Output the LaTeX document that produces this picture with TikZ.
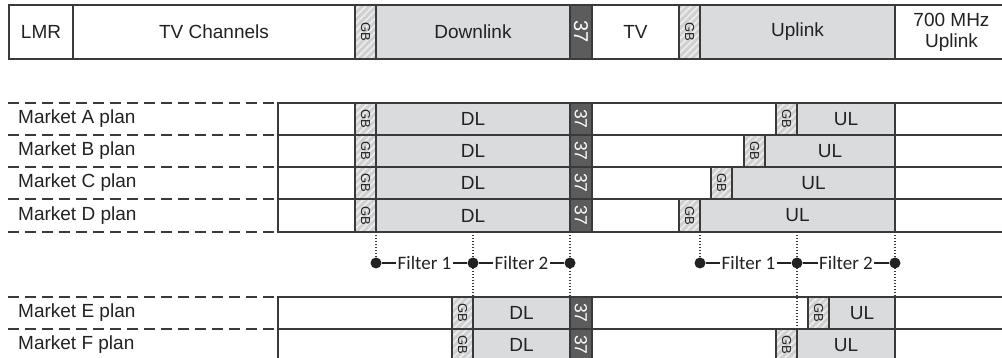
\documentclass[tikz,border=0pt]{standalone}
\usepackage{fontspec}
\setmainfont{Liberation Sans}
\newfontfamily\calibri{Carlito}
\usetikzlibrary{patterns.meta}
\definecolor{band}{HTML}{DADBDC}
\definecolor{gbgray}{HTML}{D0D0D0}
\definecolor{gbstripe}{HTML}{EDEDED}
\definecolor{chdark}{HTML}{5C5C5C}
\definecolor{edge}{HTML}{3A3A3A}
\definecolor{ink}{HTML}{222222}
\tikzset{
  cellbase/.style={draw=edge, line width=1.2pt, inner sep=0pt, outer sep=0pt,
    align=center, text=ink, font=\fontsize{19}{22}\selectfont},
  whitecell/.style={cellbase, fill=white},
  bandcell/.style={cellbase, fill=band},
  gbcell/.style={cellbase, preaction={fill=gbgray},
    pattern={Lines[angle=45,distance=5pt,line width=1.7pt]}, pattern color=gbstripe,
    rotate=-90, font=\fontsize{13}{14}\selectfont},
  chcell/.style={cellbase, fill=chdark, text=white, rotate=-90, font=\fontsize{17.5}{18}\selectfont},
  chtop/.style={chcell, font=\fontsize{20}{21}\selectfont},
  rowlabel/.style={anchor=west, inner sep=0pt, text=ink, font=\fontsize{19}{22}\selectfont},
  rowdash/.style={draw=edge, line width=1.2pt, dash pattern=on 11pt off 6pt},
  vdots/.style={draw=edge, line width=1.2pt, dash pattern=on 1.3pt off 1.7pt},
  fdot/.style={circle, fill=ink, draw=none, minimum size=11pt, inner sep=0pt},
  filterline/.style={draw=ink, line width=1.2pt},
  filtertext/.style={fill=white, inner xsep=1.5pt, inner ysep=1pt, text=ink,
    font=\calibri\fontsize{19}{21}\selectfont},
}
\newcommand\hcell[7]{\node[#6, minimum width={((#3)-(#2))*1pt}, minimum height={((#5)-(#4))*1pt}] (#1) at ({((#2)+(#3))/2},{((#4)+(#5))/2}) {#7};}
\newcommand\vcell[7]{\node[#6, minimum width={((#5)-(#4))*1pt}, minimum height={((#3)-(#2))*1pt}] (#1) at ({((#2)+(#3))/2},{((#4)+(#5))/2}) {#7};}
% id, y1, y2, left GB x, right GB x, label
\newcommand\marketrow[6]{%
  \draw[rowdash] (8,#2) -- (278,#2);
  \draw[rowdash] (8,#3) -- (278,#3);
  \node[rowlabel] (lab#1) at (18,{(#2+#3)/2}) {#6};
  \hcell{wl#1}{278}{#4}{#2}{#3}{whitecell}{}
  \vcell{gbl#1}{#4}{#4+21}{#2}{#3}{gbcell}{GB}
  \hcell{dl#1}{#4+21}{570}{#2}{#3}{bandcell}{DL}
  \vcell{ch#1}{570}{592}{#2}{#3}{chcell}{37}
  \hcell{wm#1}{592}{#5}{#2}{#3}{whitecell}{}
  \vcell{gbr#1}{#5}{#5+21}{#2}{#3}{gbcell}{GB}
  \hcell{ul#1}{#5+21}{895}{#2}{#3}{bandcell}{UL}
  \hcell{wr#1}{895}{1008}{#2}{#3}{whitecell}{}
}
\begin{document}
\begin{tikzpicture}[x=1pt,y=-1pt]
\useasboundingbox[fill=white] (0,0) rectangle (1002,358);
% top band plan
\hcell{lmr}{9}{73}{5}{59}{whitecell}{LMR}
\hcell{tvch}{73}{355}{5}{59}{whitecell}{TV Channels}
\vcell{gbt1}{355}{376}{5}{59}{gbcell}{GB}
\hcell{down}{376}{570}{5}{59}{bandcell}{Downlink}
\vcell{cht}{570}{592}{5}{59}{chtop}{37}
\hcell{tv}{592}{679}{5}{59}{whitecell}{TV}
\vcell{gbt2}{679}{700}{5}{59}{gbcell}{GB}
\hcell{up}{700}{895}{5}{59}{bandcell}{Uplink}
\hcell{up700}{895}{1008}{5}{59}{whitecell}{700 MHz\\[-1pt]Uplink}
% market plans
\marketrow{A}{103}{135}{355}{776}{Market A plan}
\marketrow{B}{135}{167}{355}{744}{Market B plan}
\marketrow{C}{167}{199}{355}{711}{Market C plan}
\marketrow{D}{199}{232}{355}{679}{Market D plan}
\marketrow{E}{297}{329}{452}{808}{Market E plan}
\marketrow{F}{329}{361}{452}{776}{Market F plan}
% filter positions
\coordinate (p1) at (376,263);
\coordinate (p2) at (473,263);
\coordinate (p3) at (570,263);
\coordinate (p4) at (700,263);
\coordinate (p5) at (797,263);
\coordinate (p6) at (895,263);
% dotted guides
\draw[vdots] (dlD.south west) -- (p1);
\draw[vdots] (dlE.north west |- dlD.south) -- (dlE.north west);
\draw[vdots] (dlD.south east) -- (dlE.north east);
\draw[vdots] (ulD.south west) -- (p4);
\draw[vdots] (ulF.north west |- ulD.south) -- (ulF.north west);
\draw[vdots] (ulD.south east) -- (ulE.north east);
% filters
\node[fdot] (f1a) at (p1) {};
\node[fdot] (f2a) at (p2) {};
\node[fdot] (f3a) at (p3) {};
\node[fdot] (f1b) at (p4) {};
\node[fdot] (f2b) at (p5) {};
\node[fdot] (f3b) at (p6) {};
\draw[filterline] (f1a) -- node[filtertext] (t1a) {Filter 1} (f2a);
\draw[filterline] (f2a) -- node[filtertext] (t2a) {Filter 2} (f3a);
\draw[filterline] (f1b) -- node[filtertext] (t1b) {Filter 1} (f2b);
\draw[filterline] (f2b) -- node[filtertext] (t2b) {Filter 2} (f3b);
\end{tikzpicture}
\end{document}
